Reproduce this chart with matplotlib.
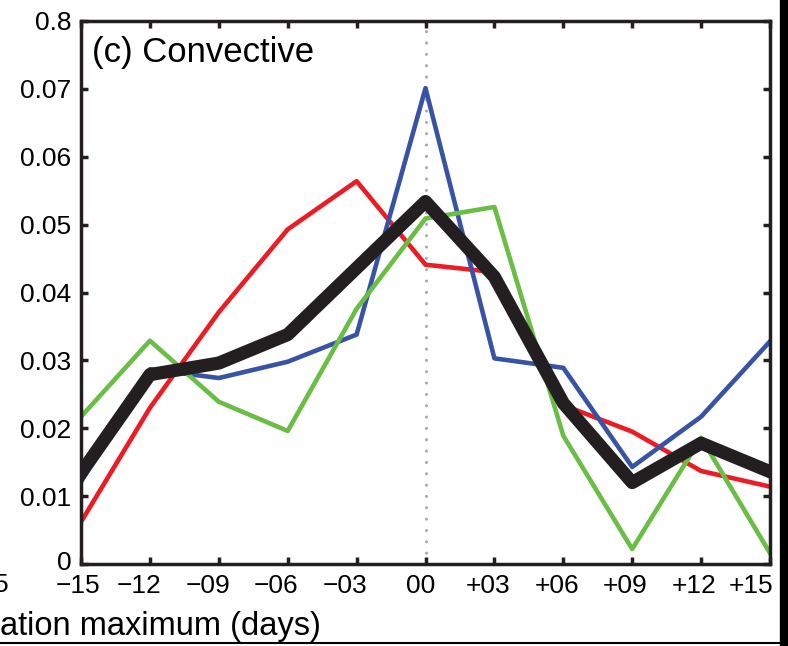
import matplotlib
matplotlib.use('Agg')
import matplotlib.pyplot as plt
import matplotlib.transforms as mtransforms
from matplotlib.lines import Line2D

plt.rcParams['font.family'] = ['Liberation Sans', 'DejaVu Sans']

# 数据：相对降水最大值的天数
days = [-15, -12, -9, -6, -3, 0, 3, 6, 9, 12, 15]
day_labels = ['\u221215', '\u221212', '\u221209', '\u221206', '\u221203', '00',
              '+03', '+06', '+09', '+12', '+15']
red = [0.0062, 0.0230, 0.0371, 0.0493, 0.0564, 0.0441, 0.0430, 0.0234, 0.0195, 0.0137, 0.0114]
blue = [0.0121, 0.0287, 0.0274, 0.0298, 0.0338, 0.0701, 0.0303, 0.0289, 0.0143, 0.0217, 0.0328]
green = [0.0217, 0.0329, 0.0239, 0.0196, 0.0376, 0.0509, 0.0526, 0.0189, 0.0022, 0.0186, 0.0016]
black = [0.0134, 0.0279, 0.0296, 0.0338, 0.0436, 0.0534, 0.0423, 0.0237, 0.0120, 0.0178, 0.0136]
yticks = [0, 0.01, 0.02, 0.03, 0.04, 0.05, 0.06, 0.07, 0.08]
ytick_labels = ['0', '0.01', '0.02', '0.03', '0.04', '0.05', '0.06', '0.07', '0.8']

fig = plt.figure(figsize=(7.88, 6.46), dpi=100)
ax = fig.add_axes([81 / 788, 1 - 564 / 646, 689 / 788, 543 / 646])

ax.axvline(0, color='#a7a9ac', lw=2.2, ls=(0, (0.01, 3.7)), dash_capstyle='round', zorder=1)
ax.plot(days, red, color='#ed1c24', lw=3.3, zorder=2)
ax.plot(days, blue, color='#3953a4', lw=3.3, zorder=2)
ax.plot(days, green, color='#6abd45', lw=3.3, zorder=2)
ax.plot(days, black, color='#231f20', lw=9.5, zorder=3)

ax.set_xlim(-15, 15)
ax.set_ylim(0, 0.08)
ax.set_xticks(days)
ax.set_xticklabels(day_labels)
ax.set_yticks(yticks)
ax.set_yticklabels(ytick_labels)
ax.tick_params(direction='in', length=5, width=2.5, color='#231f20',
               top=True, right=True, labelsize=19, pad=7)
for s in ax.spines.values():
    s.set_linewidth(2.5)
    s.set_color('#231f20')
    s.set_zorder(4)

# x刻度标签在原图中略微左移
shifts = [-3, -11, -11, -12, -12, -5, -6, -6, -7, -7, -19]
for lab, dx in zip(ax.get_xticklabels(), shifts):
    lab.set_transform(lab.get_transform() + mtransforms.ScaledTranslation(dx / 100, 0, fig.dpi_scale_trans))
# 纵轴的 "0" 稍微上移
ylab0 = ax.get_yticklabels()[0]
ylab0.set_transform(ylab0.get_transform() + mtransforms.ScaledTranslation(0, 4 / 100, fig.dpi_scale_trans))

ax.text(-14.52, 0.0754, '(c) Convective', fontsize=25, va='center', ha='left')

# 图外的残留元素（相邻面板的标签、边框）
fig.text(0, 1 - 627 / 646, 'ation maximum (days)', fontsize=23.5, ha='left', va='center')
fig.text(9 / 788, 1 - 585 / 646, '+15', fontsize=19, ha='right', va='center')
fig.add_artist(Line2D([784 / 788, 784 / 788], [1 - 643 / 646, 1], transform=fig.transFigure,
                      color='black', lw=6))
fig.add_artist(Line2D([0, 787 / 788], [1 - 643 / 646, 1 - 643 / 646], transform=fig.transFigure,
                      color='black', lw=1.5))

plt.savefig('out.png', dpi=100)
